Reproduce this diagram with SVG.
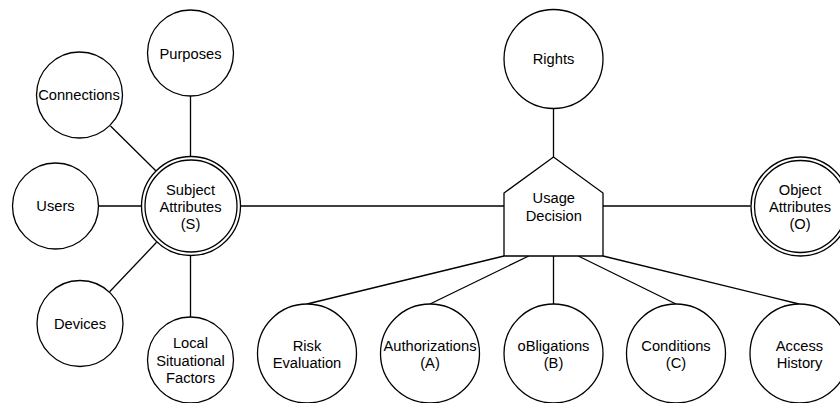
<svg xmlns="http://www.w3.org/2000/svg" width="840" height="403" viewBox="0 0 840 403">
<style>
.n{fill:#fff;stroke:#000;stroke-width:1.3}
.e{fill:none;stroke:#000;stroke-width:1.3}
text{font-family:"Liberation Sans",Arial,Helvetica,sans-serif;font-size:14.7px;fill:#000;text-anchor:middle}
</style>
<rect width="840" height="403" fill="#fff"/>
<g id="connectors">
<line class="e" x1="190.5" y1="96" x2="190.5" y2="156.5"/>
<line class="e" x1="190.5" y1="255.5" x2="190.5" y2="317"/>
<line class="e" x1="98.5" y1="206" x2="141.5" y2="206"/>
<line class="e" x1="110.5" y1="126" x2="155.8" y2="170.8"/>
<line class="e" x1="109.6" y1="291.8" x2="156.6" y2="242.3"/>
<line class="e" x1="240.5" y1="206" x2="504" y2="206"/>
<line class="e" x1="603" y1="206" x2="750.5" y2="206"/>
<line class="e" x1="553.5" y1="108.5" x2="553.5" y2="157"/>
<line class="e" x1="504" y1="256" x2="307" y2="304"/>
<line class="e" x1="528.75" y1="256" x2="430" y2="304"/>
<line class="e" x1="553.5" y1="256" x2="553.5" y2="304"/>
<line class="e" x1="578.25" y1="256" x2="676" y2="304"/>
<line class="e" x1="603" y1="256" x2="799" y2="304"/>
</g>
<g id="purposes"><circle class="n" cx="190.5" cy="53" r="43"/><text x="190.5" y="58.5">Purposes</text></g>
<g id="connections"><circle class="n" cx="79.5" cy="95" r="43"/><text x="79" y="100">Connections</text></g>
<g id="users"><circle class="n" cx="55.5" cy="206" r="43"/><text x="55.5" y="211.3">Users</text></g>
<g id="devices"><circle class="n" cx="80" cy="323.5" r="43"/><text x="80" y="328.5">Devices</text></g>
<g id="local"><circle class="n" cx="190.5" cy="360" r="43"/><text x="190.5" y="348">Local</text><text x="190.5" y="365.5">Situational</text><text x="190.5" y="383">Factors</text></g>
<g id="subject"><circle class="n" cx="191" cy="206" r="49.5"/><circle class="n" cx="191" cy="206" r="46"/><text x="190.5" y="194.5">Subject</text><text x="190.5" y="211.8">Attributes</text><text x="190.5" y="229.3">(S)</text></g>
<g id="rights"><circle class="n" cx="553.5" cy="59" r="49.5"/><text x="553.5" y="63.8">Rights</text></g>
<g id="usage"><polygon class="n" points="504,256 504,193 553.5,157 603,193 603,256"/><text x="553.8" y="203">Usage</text><text x="553.8" y="220.8">Decision</text></g>
<g id="object"><circle class="n" cx="800.5" cy="206.5" r="49.5"/><circle class="n" cx="800.5" cy="206.5" r="46"/><text x="800" y="194.6">Object</text><text x="800" y="211.8">Attributes</text><text x="800" y="229.3">(O)</text></g>
<g id="risk"><circle class="n" cx="307" cy="353.5" r="49.5"/><text x="307" y="350.5">Risk</text><text x="307" y="368.3">Evaluation</text></g>
<g id="authorizations"><circle class="n" cx="430" cy="353.5" r="49.5"/><text x="430" y="350.5">Authorizations</text><text x="430" y="368.3">(A)</text></g>
<g id="obligations"><circle class="n" cx="553.5" cy="353.5" r="49.5"/><text x="553.5" y="350.5">oBligations</text><text x="553.5" y="368.3">(B)</text></g>
<g id="conditions"><circle class="n" cx="676" cy="353.5" r="49.5"/><text x="676" y="350.5">Conditions</text><text x="676" y="368.3">(C)</text></g>
<g id="access"><circle class="n" cx="799.5" cy="353.5" r="49.5"/><text x="799.5" y="350.5">Access</text><text x="799.5" y="368.3">History</text></g>
</svg>
